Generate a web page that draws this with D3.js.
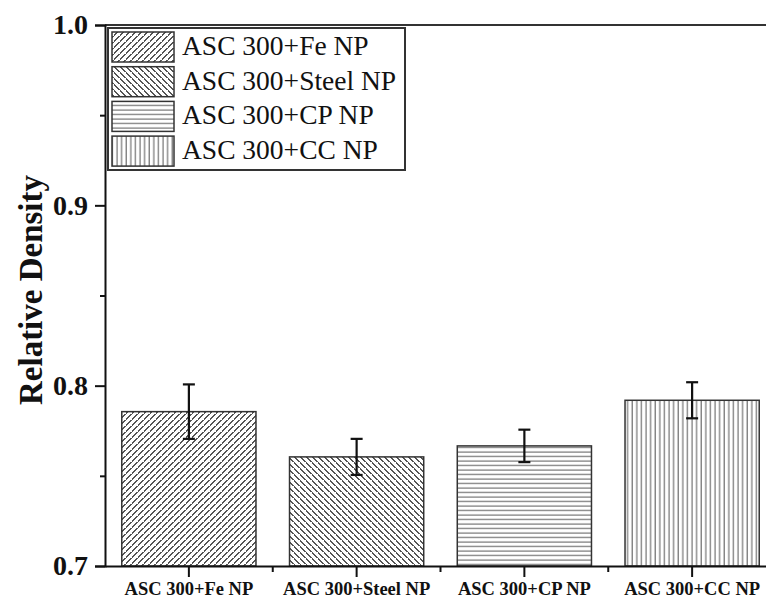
<!DOCTYPE html>
<html><head><meta charset="utf-8">
<script src="https://cdn.jsdelivr.net/npm/d3@7/dist/d3.min.js"></script>
<style>body{margin:0;background:#fff}svg{display:block}</style>
</head><body>
<script>
const categories = ["ASC 300+Fe NP","ASC 300+Steel NP","ASC 300+CP NP","ASC 300+CC NP"];
const values = [0.7856, 0.7605, 0.7666, 0.7919];
const errors = [0.0151, 0.0100, 0.0090, 0.0100];
const patterns = ["fwd","back","horiz","vert"];
const yTicks = [0.7, 0.8, 0.9, 1.0];
const yMinorTicks = [0.75, 0.85, 0.95];
const yLabel = "Relative Density";

const W = 766, H = 599;
const m = {left:105, top:25, bottom:33};
const plotRight = 776;
const serif = "'Liberation Serif','Times New Roman',serif";
const svg = d3.select("body").append("svg").attr("width",W).attr("height",H);

const defs = svg.append("defs");
function mkPat(id, draw, w, h){
  const p = defs.append("pattern").attr("id",id).attr("patternUnits","userSpaceOnUse")
    .attr("width",w).attr("height",h);
  p.append("rect").attr("width",w).attr("height",h).attr("fill","#fff");
  draw(p);
}
const hc = "#555", hw = 1;
mkPat("fwd", p=>{
  p.append("path").attr("d","M-1,6 L6,-1 M0,6 L6,0 M5,7 L7,5").attr("stroke",hc).attr("stroke-width",hw);
},6,6);
mkPat("back", p=>{
  p.append("path").attr("d","M-1,0 L6,7 M0,0 L6,6 M5,-1 L7,1 M-1,5 L1,7").attr("stroke",hc).attr("stroke-width",hw);
},6,6);
mkPat("horiz", p=>{
  p.append("path").attr("d","M0,2 L10,2").attr("stroke",hc).attr("stroke-width",hw);
},10,4.5);
mkPat("vert", p=>{
  p.append("path").attr("d","M2,0 L2,10").attr("stroke",hc).attr("stroke-width",hw);
},4.6,10);

const x = d3.scaleBand().domain(categories).range([m.left, plotRight]).paddingInner(0.2).paddingOuter(0.1);
const y = d3.scaleLinear().domain([0.7,1.0]).range([H-m.bottom, m.top]);

// bars
svg.selectAll("rect.bar").data(categories).join("rect").attr("class","bar")
  .attr("x",d=>x(d)).attr("width",x.bandwidth())
  .attr("y",(d,i)=>y(values[i])).attr("height",(d,i)=>y(0.7)-y(values[i]))
  .attr("fill",(d,i)=>`url(#${patterns[i]})`).attr("stroke","#333").attr("stroke-width",1.5);

// error bars
const eb = svg.append("g").attr("stroke","#111").attr("stroke-width",2.2);
categories.forEach((c,i)=>{
  const cx = x(c)+x.bandwidth()/2;
  const t = y(values[i]+errors[i]), b = y(values[i]-errors[i]);
  eb.append("line").attr("x1",cx).attr("x2",cx).attr("y1",t).attr("y2",b);
  eb.append("line").attr("x1",cx-6).attr("x2",cx+6).attr("y1",t).attr("y2",t);
  eb.append("line").attr("x1",cx-6).attr("x2",cx+6).attr("y1",b).attr("y2",b);
});

// top frame
svg.append("line").attr("x1",m.left).attr("x2",W).attr("y1",y(1.0)).attr("y2",y(1.0))
  .attr("stroke","#333").attr("stroke-width",2);

// y axis
const yAxis = svg.append("g").attr("transform",`translate(${m.left},0)`)
  .call(d3.axisLeft(y).tickValues(yTicks).tickFormat(d3.format(".1f")).tickSize(10).tickPadding(7));
yAxis.select(".domain").attr("stroke","#111").attr("stroke-width",2);
yAxis.selectAll(".tick line").attr("stroke","#111").attr("stroke-width",2);
yAxis.selectAll("text").attr("font-family",serif)
  .attr("font-weight","bold").attr("font-size",28).attr("fill","#111");
svg.append("g").attr("transform",`translate(${m.left},0)`)
  .call(d3.axisLeft(y).tickValues(yMinorTicks).tickSize(5).tickFormat(""))
  .call(g=>{g.select(".domain").remove(); g.selectAll("line").attr("stroke","#111").attr("stroke-width",2);});

// x axis
const xAxis = svg.append("g").attr("transform",`translate(0,${y(0.7)})`)
  .call(d3.axisBottom(x).tickSize(11).tickSizeOuter(0));
xAxis.select(".domain").attr("stroke","#111").attr("stroke-width",2);
xAxis.selectAll(".tick line").attr("stroke","#111").attr("stroke-width",2);
xAxis.selectAll("text").attr("y",29).attr("dy",0).attr("font-family",serif)
  .attr("font-weight","bold").attr("font-size",18.5).attr("fill","#111");
// minor x ticks between bars
const minorX = categories.slice(0,-1).map((c,i)=>(x(c)+x.bandwidth()+x(categories[i+1]))/2);
svg.append("g").selectAll("line").data(minorX).join("line")
  .attr("x1",d=>d).attr("x2",d=>d).attr("y1",y(0.7)).attr("y2",y(0.7)+6)
  .attr("stroke","#111").attr("stroke-width",2);

// y label
svg.append("text").attr("transform",`translate(42,290) rotate(-90)`)
  .attr("text-anchor","middle").attr("font-family",serif)
  .attr("font-weight","bold").attr("font-size",33).attr("fill","#111").text(yLabel);

// legend
const lg = svg.append("g");
lg.append("rect").attr("x",108).attr("y",28).attr("width",297).attr("height",142)
  .attr("fill","#fff").attr("stroke","#333").attr("stroke-width",2);
categories.forEach((c,i)=>{
  const ry = 32 + i*34.7;
  lg.append("rect").attr("x",112).attr("y",ry).attr("width",62).attr("height",30)
    .attr("fill",`url(#${patterns[i]})`).attr("stroke","#333").attr("stroke-width",1.5);
  lg.append("text").attr("x",182).attr("y",ry+23).attr("font-family",serif)
    .attr("font-size",27.5).attr("fill","#111").text(c);
});
</script>
</body></html>
